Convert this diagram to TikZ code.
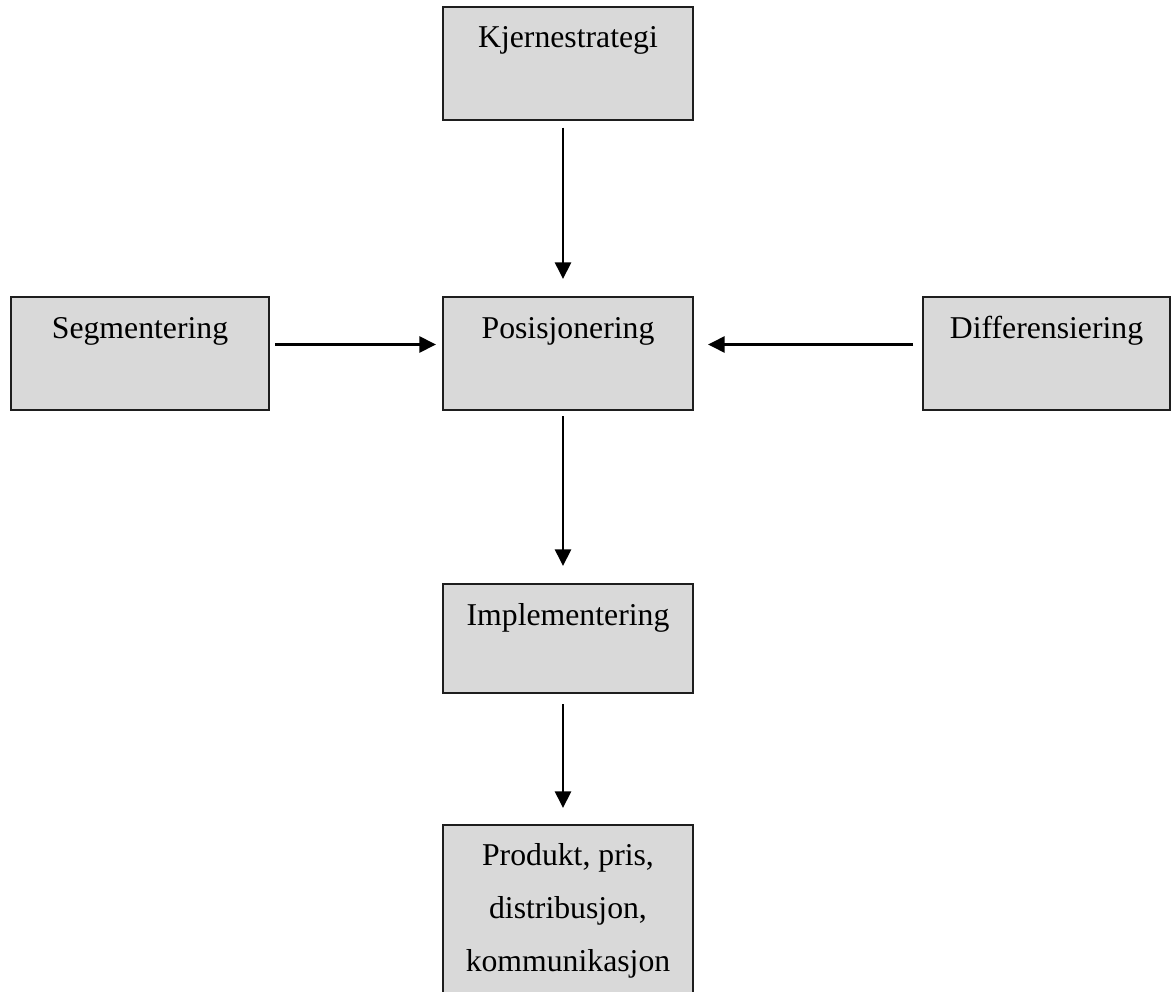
\documentclass[tikz,border=0pt]{standalone}
\usepackage{fontspec}
\setmainfont{Liberation Serif}
\usepackage{tikz}
\usetikzlibrary{arrows.meta,positioning}
\definecolor{boxgray}{RGB}{217,217,217}
\definecolor{edgegray}{RGB}{30,30,30}
\tikzset{
  stratbox/.style={draw=edgegray,fill=boxgray,line width=1.5pt,inner sep=0pt,
    minimum width=187.5pt,text height=30.75pt,text depth=54pt,align=center,
    font=\fontsize{23.8}{39.75}\selectfont},
  stratarrow/.style={-{Triangle[length=12.5pt,width=12pt]},line width=2pt,draw=black},
}
\begin{document}
\begin{tikzpicture}[x=0.75pt,y=-0.75pt]
        \useasboundingbox (0,0) rectangle (1176,991);
        \node[stratbox] (kjerne) at (568,63.5) {Kjernestrategi};
        \node[stratbox] (posisjon) at (568,353.5) {Posisjonering};
        \node[stratbox,minimum width=193.5pt] (segment) at (140,353.5) {Segmentering};
        \node[stratbox,minimum width=185.25pt] (differ) at (1046.5,353.5) {Differensiering};
        \node[stratbox,text depth=51pt] (implement) at (568,638.5) {Implementering};
        \node[stratbox,text height=,text depth=,anchor=north,inner ysep=14pt] (produkt)
          at (568,824) {Produkt, pris,\\distribusjon,\\kommunikasjon};
        \draw[stratarrow,shorten <=5pt,shorten >=12.75pt]
          ([xshift=-3.75pt]kjerne.south) -- ([xshift=-3.75pt]posisjon.north);
        \draw[stratarrow,shorten <=3.75pt,shorten >=12.75pt]
          ([xshift=-3.75pt]posisjon.south) -- ([xshift=-3.75pt]implement.north);
        \draw[stratarrow,shorten <=7.5pt,shorten >=12pt]
          ([xshift=-3.75pt]implement.south) -- ([xshift=-3.75pt]produkt.north);
        \draw[stratarrow,shorten <=3.75pt,shorten >=4.5pt]
          ([yshift=6.75pt]segment.east) -- ([yshift=6.75pt]posisjon.west);
        \draw[stratarrow,shorten <=6.75pt,shorten >=10.5pt]
          ([yshift=6.75pt]differ.west) -- ([yshift=6.75pt]posisjon.east);
      \end{tikzpicture}
\end{document}
